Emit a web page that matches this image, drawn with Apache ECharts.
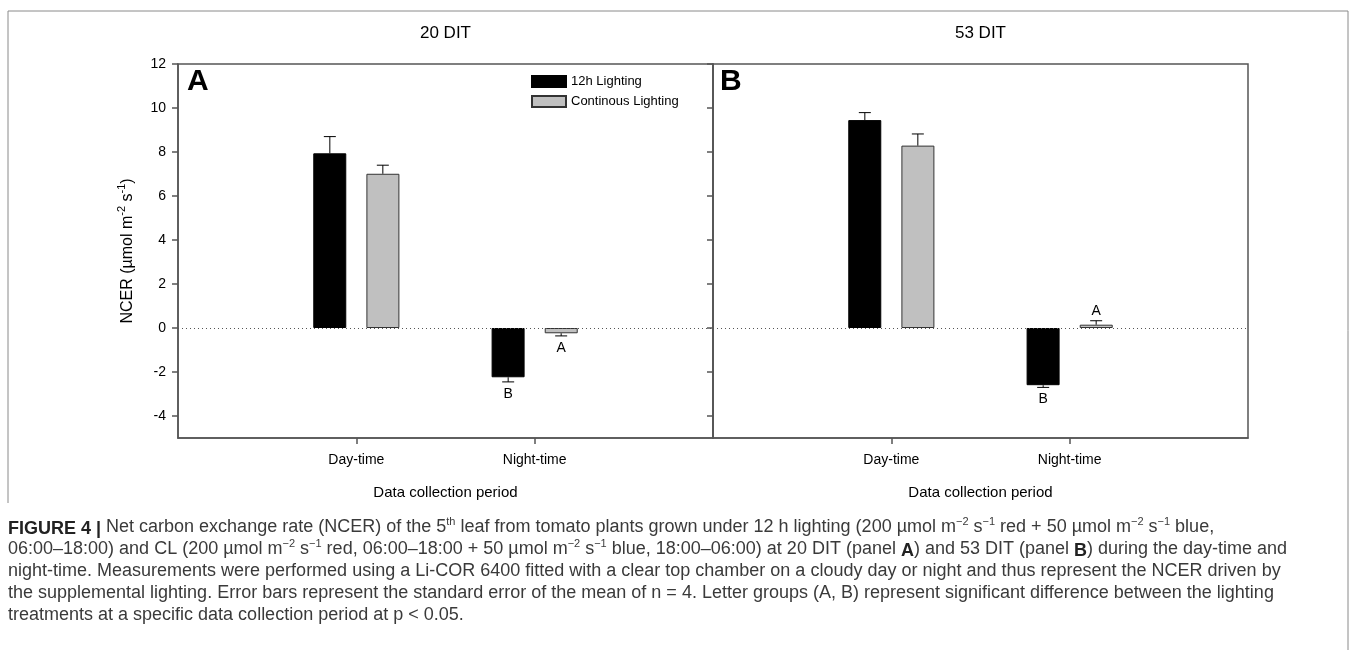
<!DOCTYPE html>
<html>
<head>
<meta charset="utf-8">
<script src="https://cdn.jsdelivr.net/npm/echarts@6/dist/echarts.min.js"></script>
<style>
  html, body { margin: 0; padding: 0; background: #fff; }
  #main { width: 1355px; height: 658px; }
</style>
</head>
<body>
<div id="main"></div>
<script>
// data
var periods = ['Day-time', 'Night-time'];
var yTicks = [-4, -2, 0, 2, 4, 6, 8, 10, 12];

// 20 DIT (panel A)
var ncer20_12h = [7.94, -2.24];
var se20_12h = [0.76, 0.21];
var sig20_12h = ['', 'B'];
var ncer20_CL = [7.01, -0.24];
var se20_CL = [0.39, 0.12];
var sig20_CL = ['', 'A'];

// 53 DIT (panel B)
var ncer53_12h = [9.45, -2.60];
var se53_12h = [0.34, 0.10];
var sig53_12h = ['', 'B'];
var ncer53_CL = [8.29, 0.15];
var se53_CL = [0.53, 0.18];
var sig53_CL = ['', 'A'];

var FONT = 'Arial, "Liberation Sans", sans-serif';
var AXIS_COLOR = '#555';

// empty slots at both ends so the two periods sit at 1/3 and 2/3 of the panel
var cats = [''].concat(periods, ['']);
function pad(arr) { return ['-'].concat(arr, ['-']); }
function notEmpty(index, value) { return value !== ''; }

var mainDiv = document.getElementById('main');
var myChart = echarts.init(mainDiv);

function xAxisFor(gridIndex) {
    return {
        type: 'category',
        gridIndex: gridIndex,
        boundaryGap: false,
        data: cats,
        axisLine: { onZero: false, lineStyle: { color: AXIS_COLOR, width: 1.5 } },
        axisTick: { interval: notEmpty, length: 6, lineStyle: { color: AXIS_COLOR, width: 1.5 } },
        axisLabel: { interval: notEmpty, fontSize: 14, color: '#000', fontFamily: FONT, margin: 15 },
        splitLine: { show: false },
        name: 'Data collection period',
        nameLocation: 'middle',
        nameGap: 47,
        nameTextStyle: { fontSize: 15, color: '#000', fontFamily: FONT }
    };
}

function yAxisFor(gridIndex, withLabels) {
    var ax = {
        type: 'value',
        gridIndex: gridIndex,
        min: -5,
        max: 12,
        axisLine: { show: true, lineStyle: { color: AXIS_COLOR, width: 1.5 } },
        axisTick: { show: true, customValues: yTicks, length: 6, lineStyle: { color: AXIS_COLOR, width: 1.5 } },
        axisLabel: { show: withLabels, customValues: yTicks, fontSize: 14, color: '#000', fontFamily: FONT, margin: 12 },
        splitLine: { show: false }
    };
    if (withLabels) {
        ax.name = '{n|NCER (µmol m}{s|-2}{n| s}{s|-1}{n|)}';
        ax.nameLocation = 'middle';
        ax.nameRotate = 90;
        ax.nameGap = 42;
        ax.nameTextStyle = {
            rich: {
                n: { fontSize: 16, color: '#000', fontFamily: FONT, lineHeight: 20, verticalAlign: 'bottom' },
                s: { fontSize: 11, color: '#000', fontFamily: FONT, lineHeight: 20, verticalAlign: 'top' }
            }
        };
    }
    return ax;
}

var zeroLine = {
    silent: true,
    symbol: ['none', 'none'],
    label: { show: false },
    lineStyle: { type: [1, 3], color: '#555', width: 1 },
    data: [{ yAxis: 0 }]
};

function barSeries(name, gridIndex, values, fill, border, withZero) {
    var s = {
        name: name,
        type: 'bar',
        xAxisIndex: gridIndex,
        yAxisIndex: gridIndex,
        data: pad(values),
        barWidth: 33,
        barGap: '61%',
        itemStyle: { color: fill, borderColor: border, borderWidth: 1 }
    };
    if (withZero) s.markLine = zeroLine;
    return s;
}

function errorSeries(gridIndex, values, se, sig, offset) {
    return {
        type: 'custom',
        xAxisIndex: gridIndex,
        yAxisIndex: gridIndex,
        clip: false,
        z: 5,
        encode: { x: 0, y: 1 },
        data: values.map(function (v, i) { return [i + 1, v, se[i]]; }),
        renderItem: function (params, api) {
            var c = api.value(0);
            var v = api.value(1);
            var e = api.value(2);
            var dir = v >= 0 ? 1 : -1;
            var x = api.coord([c, 0])[0] + offset;
            var y0 = api.coord([c, v])[1];
            var y1 = api.coord([c, v + dir * e])[1];
            var st = { stroke: '#000', lineWidth: 1 };
            var children = [
                { type: 'line', shape: { x1: x, y1: y0, x2: x, y2: y1 }, style: st },
                { type: 'line', shape: { x1: x - 6, y1: y1, x2: x + 6, y2: y1 }, style: st }
            ];
            var letter = sig[params.dataIndex];
            if (letter) {
                children.push({
                    type: 'text',
                    style: {
                        text: letter, x: x, y: y1 - dir * (dir > 0 ? 10 : 12),
                        align: 'center', verticalAlign: 'middle',
                        fontSize: 14, fontFamily: FONT, fill: '#000'
                    }
                });
            }
            return { type: 'group', children: children };
        }
    };
}

var capRich = {
    b: { fontSize: 18, fontWeight: 'bold', fontFamily: FONT, fill: '#222', lineHeight: 22, verticalAlign: 'bottom' },
    s: { fontSize: 11, fontFamily: FONT, fill: '#3a3a3a', lineHeight: 22, verticalAlign: 'top' }
};
var captionLines = [
    '{b|FIGURE 4 |} Net carbon exchange rate (NCER) of the 5{s|th} leaf from tomato plants grown under 12 h lighting (200 µmol m{s|−2} s{s|−1} red + 50 µmol m{s|−2} s{s|−1} blue,',
    '06:00–18:00) and CL (200 µmol m{s|−2} s{s|−1} red, 06:00–18:00 + 50 µmol m{s|−2} s{s|−1} blue, 18:00–06:00) at 20 DIT (panel {b|A}) and 53 DIT (panel {b|B}) during the day-time and',
    'night-time. Measurements were performed using a Li-COR 6400 fitted with a clear top chamber on a cloudy day or night and thus represent the NCER driven by',
    'the supplemental lighting. Error bars represent the standard error of the mean of n = 4. Letter groups (A, B) represent significant difference between the lighting',
    'treatments at a specific data collection period at p < 0.05.'
];

var graphics = [
    { type: 'polyline', silent: true, shape: { points: [[8, 503], [8, 11], [1348, 11], [1348, 650]] },
      style: { stroke: '#8a8a8a', lineWidth: 1, fill: null } },
    { type: 'text', x: 445.5, y: 33, style: { text: '20 DIT', fontSize: 17, fontFamily: FONT, fill: '#000', align: 'center', verticalAlign: 'middle' } },
    { type: 'text', x: 980.5, y: 33, style: { text: '53 DIT', fontSize: 17, fontFamily: FONT, fill: '#000', align: 'center', verticalAlign: 'middle' } },
    { type: 'text', x: 187, y: 82, style: { text: 'A', fontSize: 30, fontWeight: 'bold', fontFamily: FONT, fill: '#000', verticalAlign: 'middle' } },
    { type: 'text', x: 720, y: 82, style: { text: 'B', fontSize: 30, fontWeight: 'bold', fontFamily: FONT, fill: '#000', verticalAlign: 'middle' } }
];
captionLines.forEach(function (t, i) {
    graphics.push({
        type: 'text', x: 8, y: 527 + i * 22,
        style: {
            text: t, rich: capRich, fontSize: 18, fontFamily: FONT, fill: '#3a3a3a',
            lineHeight: 22, verticalAlign: 'middle'
        }
    });
});

var option = {
    backgroundColor: '#fff',
    animation: false,
    textStyle: { fontFamily: FONT },
    legend: {
        data: ['12h Lighting', 'Continous Lighting'],
        orient: 'vertical',
        left: 531,
        top: 75,
        padding: 0,
        itemWidth: 34,
        itemHeight: 11,
        itemGap: 7,
        icon: 'rect',
        textStyle: { fontSize: 13, color: '#000', fontFamily: FONT }
    },
    grid: [
        { left: 178, top: 64, width: 535, height: 374, show: true, borderColor: AXIS_COLOR, borderWidth: 1.5 },
        { left: 713, top: 64, width: 535, height: 374, show: true, borderColor: AXIS_COLOR, borderWidth: 1.5 }
    ],
    xAxis: [xAxisFor(0), xAxisFor(1)],
    yAxis: [yAxisFor(0, true), yAxisFor(1, false)],
    graphic: graphics,
    series: [
        barSeries('12h Lighting', 0, ncer20_12h, '#000', '#000', true),
        barSeries('Continous Lighting', 0, ncer20_CL, '#c0c0c0', '#333', false),
        barSeries('12h Lighting', 1, ncer53_12h, '#000', '#000', true),
        barSeries('Continous Lighting', 1, ncer53_CL, '#c0c0c0', '#333', false),
        errorSeries(0, ncer20_12h, se20_12h, sig20_12h, -26.5),
        errorSeries(0, ncer20_CL, se20_CL, sig20_CL, 26.5),
        errorSeries(1, ncer53_12h, se53_12h, sig53_12h, -26.5),
        errorSeries(1, ncer53_CL, se53_CL, sig53_CL, 26.5)
    ]
};
myChart.setOption(option);
</script>
</body>
</html>
